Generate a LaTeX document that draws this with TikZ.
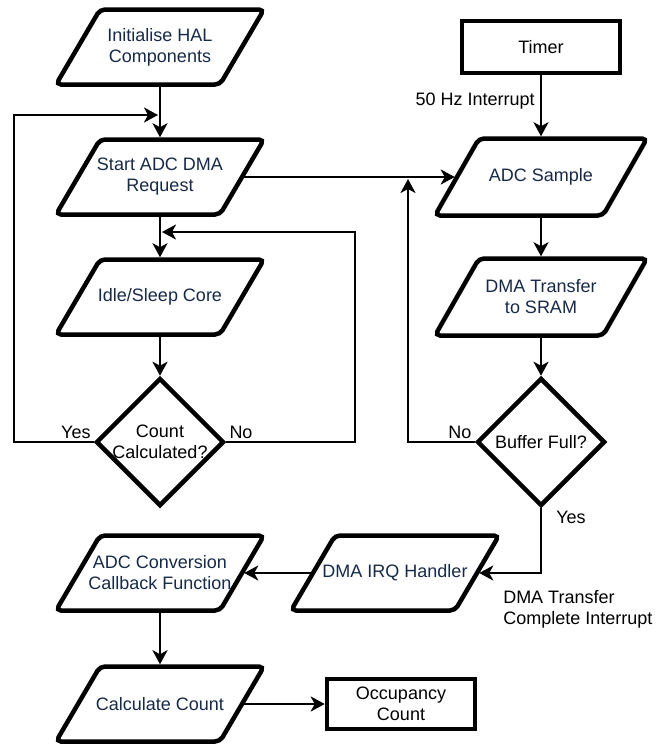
\documentclass[tikz,border=0pt]{standalone}
\usepackage{fontspec}
\setmainfont{Liberation Sans}
\usepackage{xcolor}
\usepackage{tikz}
\usetikzlibrary{shapes.geometric, positioning, arrows.meta}

\definecolor{iotext}{RGB}{22,42,72}

\begin{document}
\begin{tikzpicture}[x=1pt,y=1pt,->,>={Stealth[length=14pt,width=15pt,inset=4pt]},line width=2.5pt,
    font=\fontsize{18}{21}\selectfont,node distance=130pt,
    io/.style={rectangle,minimum width=#1,minimum height=75pt,inner sep=2pt,outer sep=2.25pt,
        align=center,text=iotext,
        append after command={\pgfextra{\draw[-,line width=4.5pt,rounded corners=5pt]
            ([xshift=24.25pt,yshift=-2.25pt]\tikzlastnode.north west) --
            ([xshift=19.75pt,yshift=-2.25pt]\tikzlastnode.north east) --
            ([xshift=-24.25pt,yshift=2.25pt]\tikzlastnode.south east) --
            ([xshift=-19.75pt,yshift=2.25pt]\tikzlastnode.south west) -- cycle;}}},
    io/.default=164pt,
    decision/.style={diamond,draw,line width=4.5pt,minimum size=128pt,inner sep=-8pt,align=center},
    block/.style={rectangle,draw,line width=4.5pt,align=center},
    lbl/.style={align=left,inner sep=2pt}]
    \useasboundingbox (0,0) rectangle (670,-744);

    % main loop
    \node[io] (hal) at (160,-47) {Initialise HAL\\Components};
    \node[io] (start) [below of=hal] {Start ADC DMA\\Request};
    \node[io] (idle) [below of=start, node distance=120pt] {Idle/Sleep Core};
    \node[decision] (calc) [below of=idle, node distance=145pt] {Count\\Calculated?};
    \node[io] (conv) [below of=calc, node distance=131pt] {ADC Conversion\\Callback Function};
    \node[io] (count) [below of=conv, node distance=131pt] {Calculate Count};

    % peripherals
    \node[block,minimum width=158pt,minimum height=52pt] (timer) [right of=hal, node distance=381pt] {Timer};
    \node[io=168pt,minimum height=77pt] (sample) [below of=timer] {ADC Sample};
    \node[io=168pt,minimum height=77pt] (xfer) [below of=sample, node distance=120pt] {DMA Transfer\\to SRAM};
    \node[decision] (full) [below of=xfer, node distance=145pt] {Buffer Full?};
    \node[io] (irq) [right of=conv, node distance=235pt] {DMA IRQ Handler};
    \node[block,minimum width=148pt,minimum height=50pt] (occ) [right of=count, node distance=241pt] {Occupancy\\Count};
    \node[lbl,anchor=north west] (irqlbl) at (500,-587) {DMA Transfer\\Complete Interrupt};

    \coordinate (loopL) at (14,-115);
    \coordinate (joinA) at (158,-115);
    \coordinate (loopR) at (355,-232);
    \coordinate (joinB) at (162,-232);
    \coordinate (joinC) at (408,-179);

    \draw (hal.south) -- (start.north);
    \draw (start.south) -- (idle.north);
    \draw (idle.south) -- (calc.north);
    \draw (calc.west) node[lbl,above left] {Yes} -| (loopL) -- (joinA);
    \draw (calc.east) node[lbl,above right] {No} -| (loopR) -- (joinB);

    \draw (timer.south) -- node[lbl,left,xshift=-3pt,yshift=5pt] {50 Hz Interrupt} (sample.north);
    \draw (start.east) -- (sample.west);
    \draw (sample.south) -- (xfer.north);
    \draw (xfer.south) -- (full.north);
    \draw (full.west) node[lbl,above left] {No} -| (joinC);
    \draw (full.south) node[lbl,below right,xshift=12pt] {Yes} |- (irq.east);

    \draw (irq.west) -- (conv.east);
    \draw (conv.south) -- (count.north);
    \draw (count.east) -- (occ.west);
\end{tikzpicture}
\end{document}
